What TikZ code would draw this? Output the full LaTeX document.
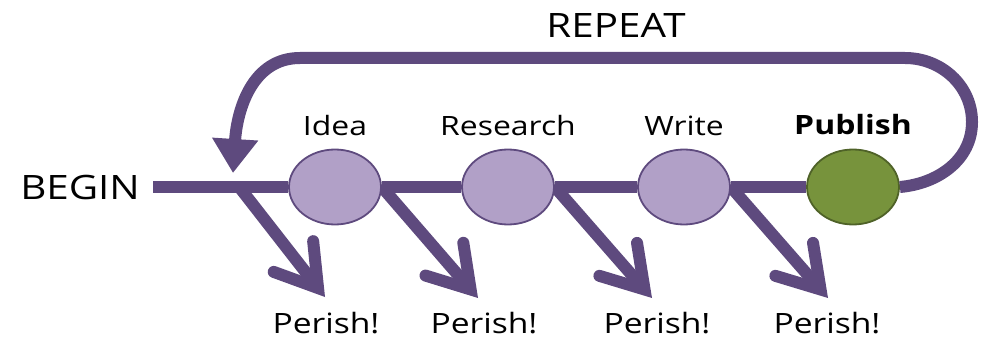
\documentclass[tikz,border=0pt]{standalone}
\usepackage{fontspec}
\setmainfont{Open Sans}[FakeStretch=1.2]
\usepackage{tikz}
\usetikzlibrary{arrows.meta,positioning,shapes,shapes.geometric,calc,backgrounds}

\definecolor{linepurple}{RGB}{94,74,126}
\definecolor{fillpurple}{RGB}{177,160,199}
\definecolor{fillgreen}{RGB}{119,147,60}
\definecolor{edgegreen}{RGB}{79,98,40}

\begin{document}
\begin{tikzpicture}[x=1pt, y=-1pt,
  stage/.style={ellipse, draw=linepurple, line width=1.8pt, fill=fillpurple,
    minimum width=92pt, minimum height=75pt, inner sep=0pt},
  stagelabel/.style={anchor=base, inner sep=0pt, font=\fontsize{26.6}{30}\selectfont},
  bigword/.style={inner sep=0pt, font=\fontsize{33.6}{40}\selectfont},
  perishword/.style={anchor=base, inner sep=0pt, font=\fontsize{28}{32}\selectfont},
  mainline/.style={draw=linepurple, line width=12pt},
  perish/.style={draw=linepurple, line width=12pt,
    -{Straight Barb[length=40pt,width=50pt,line width=12pt,line cap=round,line join=miter]}},
  repeatline/.style={draw=linepurple, line width=12pt, -{Triangle[length=34pt,width=44pt]}}]
\useasboundingbox (0,0) rectangle (984,339);

%Stages
\node[bigword, anchor=east, inner xsep=13pt] (begin) at (153,187) {BEGIN};
\node[stage] (idea) at (335,187) {};
\node[stage] (research) at (508,187) {};
\node[stage] (write) at (684,187) {};
\node[stage, fill=fillgreen, draw=edgegreen] (publish) at (853,187) {};

\node[stagelabel] (idealabel) at (335,136) {Idea};
\node[stagelabel] (researchlabel) at (508,136) {Research};
\node[stagelabel] (writelabel) at (684,136) {Write};
\node[stagelabel, font=\fontsize{26.6}{30}\selectfont\bfseries] (publishlabel) at (853,135) {Publish};
\node[bigword] (repeat) at (616,25) {REPEAT};

%Perish
\coordinate (fork) at (240,188);
\coordinate (tip1) at (325,297);
\coordinate (tip2) at (478,298);
\coordinate (tip3) at (652,298);
\coordinate (tip4) at (828,298);
\node[perishword] (perish1) at (326,333) {Perish!};
\node[perishword] (perish2) at (484,333) {Perish!};
\node[perishword] (perish3) at (657,333) {Perish!};
\node[perishword] (perish4) at (827,333) {Perish!};

\begin{scope}[on background layer]
\draw[mainline] (begin.east) -- (idea) -- (research) -- (write) -- (publish);
\draw[perish] (fork) -- (tip1);
\draw[perish] (idea.east) -- (tip2);
\draw[perish] (research.east) -- (tip3);
\draw[perish] (write.east) -- (tip4);
%\draw[perish] (publish.east) -- (tip5);
\end{scope}

%Loop back
\coordinate (loopend) at (233,173);
\draw[repeatline] (publish.east) to[out=5,in=-90] (972,122) to[out=90,in=0] (905,58)
  -- (300,58) .. controls (252,58) and (237,110) .. (loopend);

\end{tikzpicture}
\end{document}
